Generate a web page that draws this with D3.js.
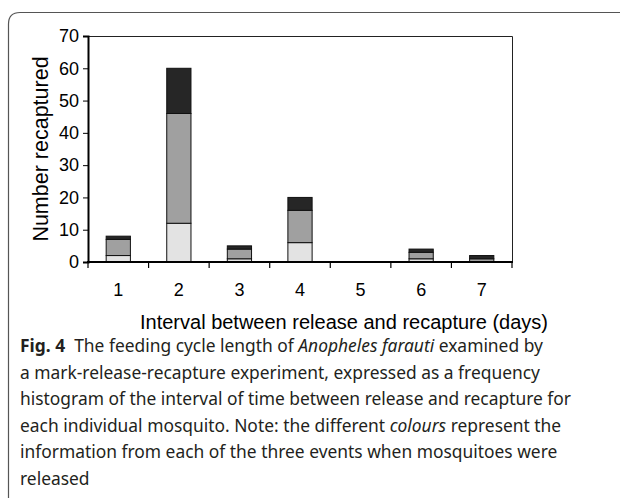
<!DOCTYPE html>
<html>
<head>
<meta charset="utf-8">
<script src="https://cdn.jsdelivr.net/npm/d3@7"></script>
<style>
  body { margin: 0; background: #fff; }
  svg { display: block; }
  .caption { font-family: "Noto Sans", sans-serif; font-size: 17.4px; fill: #231f20; }
</style>
</head>
<body>
<div id="chart"></div>
<script>
// day of recapture and how many came back from each release event
var days = ["1", "2", "3", "4", "5", "6", "7"];
var release1 = [2, 12, 1, 6, 0, 1, 0];
var release2 = [5, 34, 3, 10, 0, 2, 1];
var release3 = [1, 14, 1, 4, 0, 1, 1];
var yTicks = [0, 10, 20, 30, 40, 50, 60, 70];
var captionLines = [
    [{t: "Fig. 4", b: true}, {t: "  The feeding cycle length of "}, {t: "Anopheles farauti", i: true}, {t: " examined by"}],
    [{t: "a mark-release-recapture experiment, expressed as a frequency"}],
    [{t: "histogram of the interval of time between release and recapture for"}],
    [{t: "each individual mosquito. Note: the different "}, {t: "colours", i: true}, {t: " represent the"}],
    [{t: "information from each of the three events when mosquitoes were"}],
    [{t: "released"}]
];

var W = 620, H = 498;
var margin = {left: 88, right: 108, top: 36, bottom: 236};
var chartFont = "Liberation Sans, Arial, sans-serif";

var svg = d3.select("#chart").append("svg")
    .attr("width", W)
    .attr("height", H);

// outer frame with rounded top-left corner
svg.append("path")
    .attr("d", "M8.5," + (H + 5) + " L8.5,24 Q8.5,12.5 20,12.5 L" + (W + 5) + ",12.5")
    .attr("fill", "none")
    .attr("stroke", "#555")
    .attr("stroke-width", 1.2);

var x = d3.scaleBand()
    .domain(days)
    .range([margin.left, W - margin.right])
    .paddingInner(0.6)
    .paddingOuter(0.3);

var y = d3.scaleLinear()
    .domain([0, 70])
    .range([H - margin.bottom, margin.top]);

var stackData = days.map(function(d, i){
    return {day: d, a: release1[i], b: release2[i], c: release3[i]};
});
var series = d3.stack().keys(["a", "b", "c"])(stackData);
var fills = {a: "#e3e3e3", b: "#a0a0a0", c: "#262626"};

// plot box top and right
svg.append("path")
    .attr("d", "M" + margin.left + "," + (y(70) + 0.5) + " H" + (W - margin.right + 0.5) + " V" + y(0))
    .attr("fill", "none")
    .attr("stroke", "#222")
    .attr("stroke-width", 1);

svg.append("g").selectAll("g")
    .data(series)
    .enter()
    .append("g")
    .attr("fill", function(s){ return fills[s.key]; })
    .selectAll("rect")
    .data(function(s){ return s.filter(function(p){ return p[1] > p[0]; }); })
    .enter()
    .append("rect")
    .attr("x", function(p){ return x(p.data.day); })
    .attr("width", x.bandwidth())
    .attr("y", function(p){ return y(p[1]); })
    .attr("height", function(p){ return y(p[0]) - y(p[1]); })
    .attr("stroke", "#111")
    .attr("stroke-width", 1);

// y axis
var yAxis = svg.append("g")
    .attr("transform", "translate(" + margin.left + ",0)")
    .call(d3.axisLeft(y).tickValues(yTicks).tickSize(5).tickPadding(4));
yAxis.select(".domain").attr("stroke-width", 2).attr("stroke", "#000");
yAxis.selectAll("text").attr("font-family", chartFont).attr("font-size", 18).attr("fill", "#000");

// x axis: ticks sit on band edges, labels in the middle
var edges = days.map(function(d){ return x(d) - x.step() * x.paddingInner() / 2; });
edges.push(W - margin.right);
var xg = svg.append("g");
xg.append("line")
    .attr("x1", margin.left - 1).attr("x2", W - margin.right + 1)
    .attr("y1", y(0)).attr("y2", y(0))
    .attr("stroke", "#000").attr("stroke-width", 2);
xg.selectAll(".tk")
    .data(edges)
    .enter()
    .append("line")
    .attr("x1", function(d){ return d; }).attr("x2", function(d){ return d; })
    .attr("y1", y(0)).attr("y2", y(0) + 6)
    .attr("stroke", "#000").attr("stroke-width", 1.2);
xg.selectAll(".lb")
    .data(days)
    .enter()
    .append("text")
    .attr("x", function(d){ return x(d) + x.bandwidth() / 2; })
    .attr("y", y(0) + 34)
    .attr("text-anchor", "middle")
    .attr("font-family", chartFont)
    .attr("font-size", 18)
    .text(function(d){ return d; });

svg.append("text")
    .attr("x", 344)
    .attr("y", 329)
    .attr("text-anchor", "middle")
    .attr("font-family", chartFont)
    .attr("font-size", 20)
    .text("Interval between release and recapture (days)");

svg.append("text")
    .attr("transform", "translate(48," + ((y(0) + y(70)) / 2) + ") rotate(-90)")
    .attr("text-anchor", "middle")
    .attr("font-family", chartFont)
    .attr("font-size", 21.5)
    .text("Number recaptured");

// caption
var cap = svg.append("text").attr("class", "caption");
captionLines.forEach(function(line, i){
    var t = cap.append("tspan").attr("x", 20).attr("y", 352 + i * 26.5);
    line.forEach(function(part, j){
        var s = j === 0 ? t : cap.append("tspan");
        s.text(part.t).attr("xml:space", "preserve");
        if (part.b) s.attr("font-weight", "bold");
        if (part.i) s.attr("font-style", "italic");
    });
});
</script>
</body>
</html>
